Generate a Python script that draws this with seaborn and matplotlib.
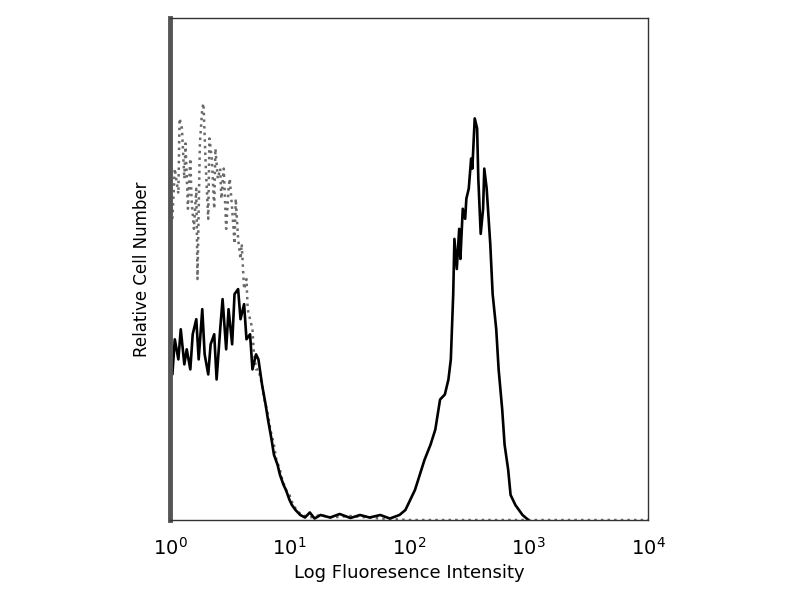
import numpy as np
import pandas as pd
import matplotlib
matplotlib.use("Agg")
import matplotlib.pyplot as plt
import seaborn as sns

# stained sample (solid): position in decades, relative count
stain_decade = [0.02, 0.04, 0.07, 0.09, 0.12, 0.14, 0.17, 0.19, 0.22, 0.24,
                0.27, 0.29, 0.32, 0.34, 0.37, 0.39, 0.42, 0.44, 0.47, 0.49,
                0.52, 0.54, 0.57, 0.59, 0.62, 0.64, 0.67, 0.69, 0.72, 0.74,
                0.77, 0.80, 0.82, 0.85, 0.87, 0.90, 0.92, 0.95, 0.97, 1.00,
                1.02, 1.05, 1.09, 1.13, 1.17, 1.21, 1.26, 1.34, 1.42, 1.51,
                1.59, 1.67, 1.76, 1.84, 1.92, 1.97, 2.01, 2.05, 2.09, 2.13,
                2.18, 2.22, 2.26, 2.30, 2.33, 2.35, 2.37, 2.38, 2.40, 2.42,
                2.43, 2.45, 2.47, 2.48, 2.50, 2.52, 2.53, 2.55, 2.57, 2.58,
                2.60, 2.62, 2.63, 2.65, 2.68, 2.70, 2.73, 2.75, 2.78, 2.80,
                2.83, 2.85, 2.89, 2.92, 2.95, 3.00]
stain_count = [29, 36, 32, 38, 31, 34, 30, 37, 40, 32,
               42, 33, 29, 35, 37, 28, 38, 44, 34, 42,
               35, 45, 46, 40, 43, 36, 37, 30, 33, 32,
               27, 23, 20, 16, 13, 11, 9, 7, 6, 4,
               3, 2, 1, 0.5, 1.5, 0.3, 1.0, 0.5, 1.2, 0.4,
               1.0, 0.5, 1.0, 0.3, 1.0, 2, 4, 6, 9, 12,
               15, 18, 24, 25, 28, 32, 45, 56, 50, 58,
               52, 62, 60, 64, 66, 72, 70, 80, 78, 68,
               57, 62, 70, 66, 55, 45, 38, 30, 22, 15,
               10, 5, 3, 2, 1, 0]

# isotype control (dotted)
iso_decade = [0.02, 0.04, 0.07, 0.08, 0.10, 0.12, 0.13, 0.15, 0.17, 0.18,
              0.20, 0.22, 0.23, 0.25, 0.27, 0.28, 0.30, 0.32, 0.33, 0.35,
              0.37, 0.38, 0.40, 0.42, 0.43, 0.45, 0.47, 0.49, 0.50, 0.52,
              0.54, 0.55, 0.57, 0.59, 0.60, 0.62, 0.64, 0.65, 0.67, 0.69,
              0.70, 0.72, 0.74, 0.77, 0.79, 0.82, 0.84, 0.87, 0.89, 0.92,
              0.94, 0.97, 1.00, 1.03, 1.06, 1.10, 1.17, 1.26, 1.34, 1.51,
              1.76, 2.00, 2.50, 3.00, 3.50, 4.00]
iso_count = [60, 70, 65, 80, 78, 68, 75, 62, 72, 64,
             58, 66, 48, 75, 82, 83, 70, 60, 76, 72,
             62, 74, 68, 70, 64, 70, 58, 66, 68, 62,
             55, 64, 56, 52, 55, 46, 48, 42, 40, 38,
             34, 30, 30, 27, 24, 21, 18, 15, 12, 10,
             8, 6, 5, 3, 2, 1, 0.5, 1, 0.5, 0.8,
             0.3, 0, 0, 0, 0, 0]

tick_pos = [1, 10, 100, 1000, 10000]
tick_labels = [r"$10^{0}$", r"$10^{1}$", r"$10^{2}$", r"$10^{3}$", r"$10^{4}$"]

stain = pd.DataFrame({"intensity": 10 ** np.array(stain_decade), "count": stain_count})
iso = pd.DataFrame({"intensity": 10 ** np.array(iso_decade), "count": iso_count})

sns.set_style("white")
plt.rcParams["font.family"] = ["DejaVu Sans"]

fig = plt.figure(figsize=(8, 6), dpi=100)
ax = fig.add_axes([0.2125, 0.1333, 0.5975, 0.8367])

sns.lineplot(data=iso, x="intensity", y="count", ax=ax, estimator=None,
             color="#6a6a6a", linestyle=":", linewidth=1.8)
sns.lineplot(data=stain, x="intensity", y="count", ax=ax, estimator=None,
             color="black", linewidth=1.9)

ax.set_xscale("log")
ax.set_xlim(1, 10000)
ax.set_ylim(0, 100)
ax.set_xticks(tick_pos)
ax.set_xticklabels(tick_labels)
ax.minorticks_off()
ax.set_yticks([])
ax.tick_params(axis="x", length=0, pad=12, labelsize=14, labelcolor="black")

ax.set_xlabel("Log Fluoresence Intensity", fontsize=13, color="black")
ax.set_ylabel("Relative Cell Number", fontsize=12, labelpad=14, color="black")

for side in ["top", "right", "bottom"]:
    ax.spines[side].set_color("#333333")
    ax.spines[side].set_linewidth(1.0)
ax.spines["left"].set_color("#555555")
ax.spines["left"].set_linewidth(3.5)

fig.savefig("out.png", dpi=100)
